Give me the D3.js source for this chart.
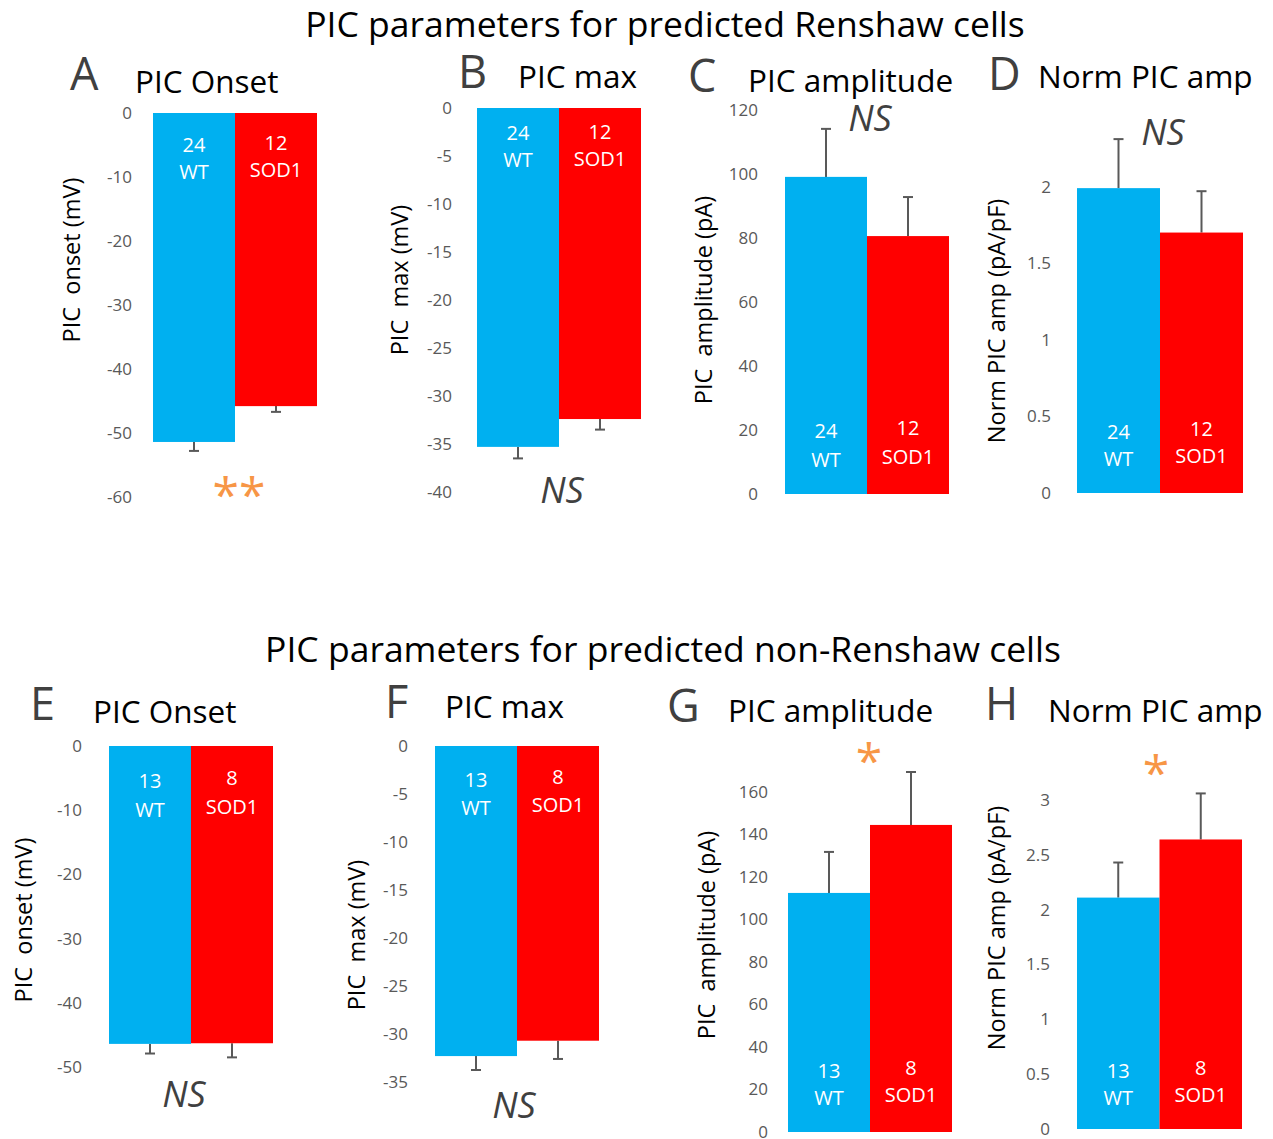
<!DOCTYPE html>
<html>
<head>
<meta charset="utf-8">
<script src="https://cdn.jsdelivr.net/npm/d3@7"></script>
<style>
  body { margin: 0; background: #fff; }
  text { font-family: "Open Sans", sans-serif; }
</style>
</head>
<body>
<div id="chart"></div>
<script>
// ---- data ----
const sectionTitles = ["PIC parameters for predicted Renshaw cells", "PIC parameters for predicted non-Renshaw cells"];
const panelLetters = ["A", "B", "C", "D", "E", "F", "G", "H"];
const panelTitles = ["PIC Onset", "PIC max", "PIC amplitude", "Norm PIC amp", "PIC Onset", "PIC max", "PIC amplitude", "Norm PIC amp"];
const yAxisTitles = ["PIC  onset (mV)", "PIC  max (mV)", "PIC  amplitude (pA)", "Norm PIC amp (pA/pF)",
                     "PIC  onset (mV)", "PIC  max (mV)", "PIC  amplitude (pA)", "Norm PIC amp (pA/pF)"];
const groups = ["WT", "SOD1"];
const nWT = [24, 24, 24, 24, 13, 13, 13, 13];
const nSOD1 = [12, 12, 12, 12, 8, 8, 8, 8];
const meanWT = [-51.4, -35.3, 99.1, 1.99, -46.4, -32.3, 112.5, 2.11];
const meanSOD1 = [-45.8, -32.4, 80.6, 1.70, -46.3, -30.7, 144.5, 2.64];
const semWT = [1.4, 1.2, 15.0, 0.32, 1.5, 1.45, 19.3, 0.32];
const semSOD1 = [0.9, 1.1, 12.2, 0.27, 2.2, 1.9, 24.9, 0.42];
const yDomains = [[-60, 0], [-40, 0], [0, 120], [0, 2.5], [-50, 0], [-35, 0], [0, 160], [0, 3]];
const yTicks = [
  [0, -10, -20, -30, -40, -50, -60],
  [0, -5, -10, -15, -20, -25, -30, -35, -40],
  [0, 20, 40, 60, 80, 100, 120],
  [0, 0.5, 1, 1.5, 2],
  [0, -10, -20, -30, -40, -50],
  [0, -5, -10, -15, -20, -25, -30, -35],
  [0, 20, 40, 60, 80, 100, 120, 140, 160],
  [0, 0.5, 1, 1.5, 2, 2.5, 3]
];
const significance = ["**", "NS", "NS", "NS", "NS", "NS", "*", "*"];

// ---- page layout (pixels) ----
const layout = [
  {bottom: 497, top: 113, tickX: 132, x0: 153, x1: 317, letterX: 70, letterY: 90, titleX: 135, titleY: 93, ylabX: 80, ylabY: 260, nY: [152, 179], sodDy: -2, sigX: 239, sigY: 512},
  {bottom: 492, top: 108, tickX: 452, x0: 477, x1: 641, letterX: 458, letterY: 88, titleX: 518, titleY: 88, ylabX: 408, ylabY: 280, nY: [140, 167], sodDy: -1, sigX: 562, sigY: 503},
  {bottom: 494, top: 110, tickX: 758, x0: 785, x1: 949, letterX: 688, letterY: 92, titleX: 748, titleY: 92, ylabX: 712, ylabY: 300, nY: [438, 467], sodDy: -3, sigX: 870, sigY: 131},
  {bottom: 493, top: 110, tickX: 1051, x0: 1077, x1: 1243, letterX: 988, letterY: 90, titleX: 1038, titleY: 88, ylabX: 1005, ylabY: 321, nY: [439, 466], sodDy: -3, sigX: 1163, sigY: 145},
  {bottom: 1067, top: 746, tickX: 82, x0: 109, x1: 273, letterX: 30, letterY: 720, titleX: 93, titleY: 723, ylabX: 32, ylabY: 920, nY: [788, 817], sodDy: -3, sigX: 184, sigY: 1107},
  {bottom: 1082, top: 746, tickX: 408, x0: 435, x1: 599, letterX: 385, letterY: 718, titleX: 445, titleY: 718, ylabX: 365, ylabY: 935, nY: [787, 815], sodDy: -3, sigX: 514, sigY: 1118},
  {bottom: 1132, top: 792, tickX: 768, x0: 788, x1: 952, letterX: 667, letterY: 722, titleX: 728, titleY: 722, ylabX: 715, ylabY: 935, nY: [1078, 1105], sodDy: -3, sigX: 869, sigY: 778},
  {bottom: 1129, top: 800, tickX: 1050, x0: 1077, x1: 1242, letterX: 985, letterY: 720, titleX: 1048, titleY: 722, ylabX: 1005, ylabY: 928, nY: [1078, 1105], sodDy: -3, sigX: 1156, sigY: 790}
];

const colors = {WT: "#00B0F0", SOD1: "#FF0000"};

const svg = d3.select("#chart")
  .append("svg")
  .attr("width", 1273)
  .attr("height", 1139);

svg.selectAll(".section-title")
  .data(sectionTitles)
  .enter()
  .append("text")
  .attr("class", "section-title")
  .attr("x", (d, i) => i === 0 ? 665 : 663)
  .attr("y", (d, i) => i === 0 ? 37 : 662)
  .attr("text-anchor", "middle")
  .style("font-size", "35.5px")
  .style("fill", "#000")
  .text(d => d);

panelLetters.forEach(function (letter, i) {
  const L = layout[i];
  const g = svg.append("g").attr("class", "panel panel-" + letter);

  const y = d3.scaleLinear()
    .domain(yDomains[i])
    .range([L.bottom, L.top]);

  const x = d3.scaleBand()
    .domain(groups)
    .range([L.x0, L.x1])
    .padding(0);

  const rows = [
    {group: "WT", n: nWT[i], mean: meanWT[i], sem: semWT[i]},
    {group: "SOD1", n: nSOD1[i], mean: meanSOD1[i], sem: semSOD1[i]}
  ];

  // y axis: labels only, no line or ticks
  const axis = g.append("g")
    .attr("transform", "translate(" + L.tickX + ",0)")
    .call(d3.axisLeft(y).tickValues(yTicks[i]).tickSize(0).tickPadding(0).tickFormat(d => String(d)));
  axis.select(".domain").remove();
  axis.selectAll("text")
    .style("font-family", "'Open Sans', sans-serif")
    .style("font-size", "17px")
    .style("fill", "#595959");

  // error bars (drawn first, away from zero)
  rows.forEach(function (r) {
    const cx = x(r.group) + x.bandwidth() / 2;
    const end = r.mean < 0 ? r.mean - r.sem : r.mean + r.sem;
    g.append("line")
      .attr("x1", cx).attr("x2", cx)
      .attr("y1", y(r.mean)).attr("y2", y(end))
      .attr("stroke", "#595959").attr("stroke-width", 2);
    g.append("line")
      .attr("x1", cx - 5).attr("x2", cx + 5)
      .attr("y1", y(end)).attr("y2", y(end))
      .attr("stroke", "#595959").attr("stroke-width", 2);
  });

  // bars
  g.selectAll("rect")
    .data(rows)
    .enter()
    .append("rect")
    .attr("x", d => x(d.group))
    .attr("width", x.bandwidth())
    .attr("y", d => Math.min(y(0), y(d.mean)))
    .attr("height", d => Math.abs(y(d.mean) - y(0)))
    .attr("fill", d => colors[d.group]);

  // n / group labels inside bars
  rows.forEach(function (r) {
    const cx = x(r.group) + x.bandwidth() / 2;
    const dy = r.group === "SOD1" ? L.sodDy : 0;
    [String(r.n), r.group].forEach(function (t, k) {
      g.append("text")
        .attr("x", cx)
        .attr("y", L.nY[k] + dy)
        .attr("text-anchor", "middle")
        .style("font-size", "20px")
        .style("fill", "#fff")
        .text(t);
    });
  });

  // panel letter + title
  g.append("text")
    .attr("x", L.letterX)
    .attr("y", L.letterY)
    .style("font-size", "45px")
    .style("fill", "#404040")
    .text(letter);
  g.append("text")
    .attr("x", L.titleX)
    .attr("y", L.titleY)
    .style("font-size", "31.5px")
    .style("fill", "#000")
    .text(panelTitles[i]);

  // y axis title
  g.append("text")
    .attr("transform", "translate(" + L.ylabX + "," + L.ylabY + ") rotate(-90)")
    .attr("text-anchor", "middle")
    .style("font-size", "23.5px")
    .style("white-space", "pre")
    .style("fill", "#000")
    .text(yAxisTitles[i]);

  // significance mark
  const sig = significance[i];
  const isNS = sig === "NS";
  g.append("text")
    .attr("x", L.sigX)
    .attr("y", L.sigY)
    .attr("text-anchor", "middle")
    .style("font-size", isNS ? "36px" : "48px")
    .style("font-style", isNS ? "italic" : "normal")
    .style("fill", isNS ? "#404040" : "#F79646")
    .text(sig);
});
</script>
</body>
</html>
